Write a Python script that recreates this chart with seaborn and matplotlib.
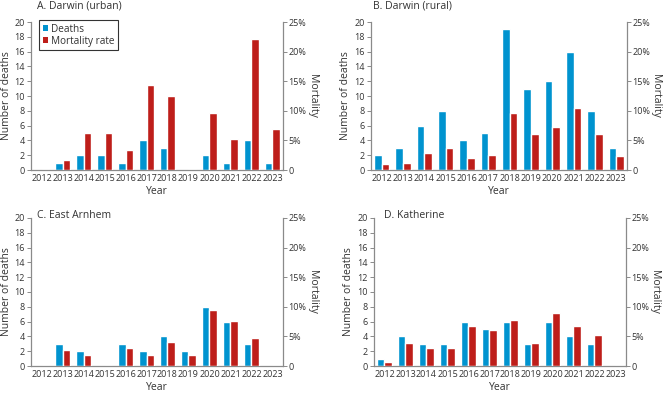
import numpy as np
import pandas as pd
import seaborn as sns
import matplotlib.pyplot as plt
from matplotlib.patches import Patch

# ---------- DATA
years = ["2012", "2013", "2014", "2015", "2016", "2017",
         "2018", "2019", "2020", "2021", "2022", "2023"]

urban_deaths = [0, 1, 2, 2, 1, 4, 3, 0, 2, 1, 4, 1]
urban_rate = [0, 1.7, 6.2, 6.2, 3.4, 14.3, 12.5, 0, 9.6, 5.2, 22.2, 6.9]

rural_deaths = [2, 3, 6, 8, 4, 5, 19, 11, 12, 16, 8, 3]
rural_rate = [1.0, 1.2, 2.8, 3.8, 2.0, 2.6, 9.6, 6.0, 7.2, 10.4, 6.0, 2.3]

arnhem_deaths = [0, 3, 2, 0, 3, 2, 4, 2, 8, 6, 3, 0]
arnhem_rate = [0, 2.7, 1.9, 0, 3.0, 1.9, 4.1, 1.9, 9.4, 7.6, 4.8, 0]

katherine_deaths = [1, 4, 3, 3, 6, 5, 6, 3, 6, 4, 3, 0]
katherine_rate = [0.6, 3.9, 3.1, 3.1, 6.8, 6.0, 7.8, 3.9, 8.9, 6.8, 5.2, 0]

panel_titles = ["A. Darwin (urban)", "B. Darwin (rural)", "C. East Arnhem", "D. Katherine"]
measures = ["Deaths", "Mortality rate"]
right_ticklabels = ["0", "5%", "10%", "15%", "20%", "25%"]

# ---------- STYLE
palette = {"Deaths": "#0093CF", "Mortality rate": "#BE1E1A"}
grey = "#8a8a8a"
txt = "#333333"
sns.set_theme(style="white")
plt.rcParams["font.family"] = ["Open Sans", "DejaVu Sans"]

fig = plt.figure(figsize=(6.63, 3.93), dpi=100)

# axes rectangles (figure fractions)
rects = [
    [0.0468, 0.5674, 0.380, 0.3766],
    [0.5596, 0.5674, 0.386, 0.3766],
    [0.0468, 0.0687, 0.380, 0.3766],
    [0.5641, 0.0687, 0.380, 0.3766],
]
title_pos = [(0.024, 1.108), (0.007, 1.108), (0.024, 1.016), (0.04, 1.016)]

panels = [
    (urban_deaths, urban_rate),
    (rural_deaths, rural_rate),
    (arnhem_deaths, arnhem_rate),
    (katherine_deaths, katherine_rate),
]

for i, (deaths, rate) in enumerate(panels):
    df = pd.DataFrame({
        "year": years * 2,
        "measure": ["Deaths"] * len(years) + ["Mortality rate"] * len(years),
        "value": deaths + rate,
    })

    ax = fig.add_axes(rects[i])
    ax2 = ax.twinx()

    # deaths on left axis, mortality on right axis (dodged by hue_order)
    sns.barplot(data=df[df["measure"] == "Deaths"], x="year", y="value",
                hue="measure", hue_order=measures, order=years, dodge=True,
                palette=palette, width=0.72, gap=0, legend=False,
                saturation=1, ax=ax)
    sns.barplot(data=df[df["measure"] == "Mortality rate"], x="year", y="value",
                hue="measure", hue_order=measures, order=years, dodge=True,
                palette=palette, width=0.72, gap=0, legend=False,
                saturation=1, ax=ax2)

    ax.set_ylim(0, 20)
    ax.set_yticks(np.arange(0, 21, 2))
    ax2.set_ylim(0, 25)
    ax2.set_yticks(np.arange(0, 26, 5))
    ax2.set_yticklabels(right_ticklabels)
    ax.set_xlim(-0.5, len(years) - 0.5)

    ax.set_xlabel("Year", fontsize=7.5, color=txt, labelpad=2)
    ax.set_ylabel("Number of deaths", fontsize=7.5, color=txt, labelpad=2)
    ax2.set_ylabel("Mortality", fontsize=7.5, color=txt, rotation=-90,
                   va="bottom", labelpad=0)

    ax.tick_params(axis="x", length=0, pad=3, labelsize=6.5, labelcolor=txt)
    ax.tick_params(axis="y", left=True, length=3, width=0.7, color=grey,
                   pad=1.5, labelsize=6.5, labelcolor=txt)
    ax2.tick_params(axis="y", right=True, length=3, width=0.7, color=grey,
                    pad=1, labelsize=6.5, labelcolor=txt)

    for name in ["top", "right"]:
        ax.spines[name].set_visible(False)
    for name in ["top", "left", "bottom"]:
        ax2.spines[name].set_visible(False)
    for s in [ax.spines["left"], ax.spines["bottom"], ax2.spines["right"]]:
        s.set_color(grey)
        s.set_linewidth(0.9)

    ax.text(title_pos[i][0], title_pos[i][1], panel_titles[i],
            transform=ax.transAxes, fontsize=7.5, color=txt,
            ha="left", va="center")

    # legend only in first panel
    if i == 0:
        handles = [Patch(facecolor=palette[m], edgecolor="none") for m in measures]
        leg = ax2.legend(handles, measures, loc="upper left",
                         bbox_to_anchor=(0.032, 1.013), borderaxespad=0,
                         fontsize=7.2, frameon=True, fancybox=False,
                         handlelength=0.55, handleheight=0.55,
                         handletextpad=0.3, labelspacing=0.1, borderpad=0.35)
        leg.get_frame().set_edgecolor("black")
        leg.get_frame().set_linewidth(0.8)
        for t in leg.get_texts():
            t.set_color(txt)

plt.savefig("out.png", dpi=100)
